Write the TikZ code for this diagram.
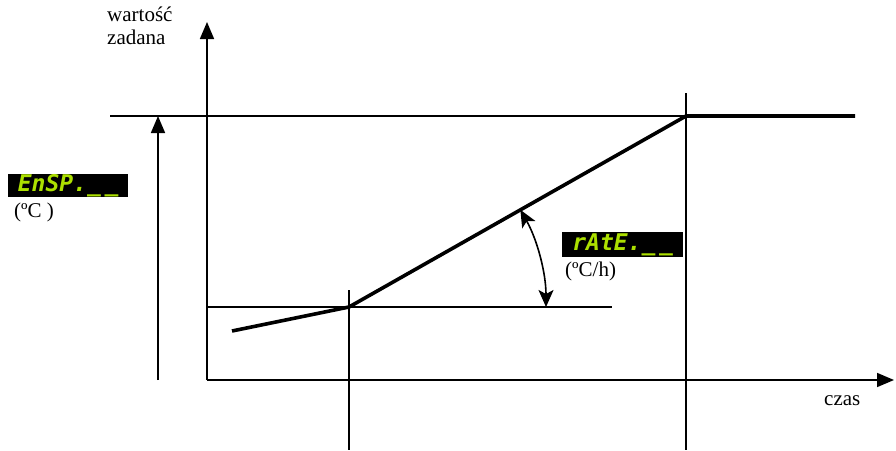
\documentclass[tikz,border=0pt]{standalone}
\usepackage{fontspec}
\setmainfont{Liberation Serif}
\newfontfamily\segfont{DejaVu Sans Mono}
\usepackage{tikz}
\usetikzlibrary{arrows.meta,calc}
\definecolor{rpline}{RGB}{0,0,0}
\definecolor{rpseg}{RGB}{172,224,0}
\definecolor{rpback}{RGB}{0,0,0}
\tikzset{
  rpThin/.style={draw=rpline, line width=1.3pt},
  rpThick/.style={draw=rpline, line width=3.6pt, line join=miter},
  rpAxis/.style={-{Triangle[length=17pt, width=14pt]}, draw=rpline, line width=1.6pt},
  rpAngle/.style={{Stealth[length=17pt, width=15pt, inset=4pt]}-{Stealth[length=17pt, width=15pt, inset=4pt]},
                  draw=rpline, line width=1.6pt},
  rpLabel/.style={inner sep=0pt, align=left, font=\fontsize{21}{23}\selectfont},
  rpDisplay/.style={fill=rpback, text=rpseg, inner sep=0pt, anchor=north west,
                    minimum height=23pt, font=\segfont\bfseries\itshape\fontsize{23}{23}\selectfont}
}
\begin{document}
\begin{tikzpicture}[x=1pt, y=-1pt]
  \useasboundingbox (0,0) rectangle (896,450);
  % axes and reference points
  \coordinate (orig) at (207,380);
  \coordinate (ytop) at (207,22);
  \coordinate (xend) at (894,380);
  \coordinate (start) at (232,331);
  \coordinate (bend) at (349,307);
  \coordinate (reach) at (686,116);
  \coordinate (hold) at (855,116);
  \coordinate (spLeft) at (110,116);
  \coordinate (baseRight) at (612,307);
  \coordinate (baseLeft) at (207,307);
  \coordinate (bendTop) at (349,290);
  \coordinate (bendLow) at (349,450);
  \coordinate (reachTop) at (686,93);
  \coordinate (reachLow) at (686,450);
  \coordinate (spFoot) at (158,380);
  \coordinate (spHead) at (158,116);
  \coordinate (rampHit) at ($(bend)+(-29.55:197)$);
  % guide lines
  \draw[rpThin] (spLeft) -- (reach);
  \draw[rpThin] (baseLeft) -- (baseRight);
  \draw[rpThin] (bendTop) -- (bendLow);
  \draw[rpThin] (reachTop) -- (reachLow);
  \draw[rpAxis] (orig) -- (ytop);
  \draw[rpAxis] (orig) -- (xend);
  \draw[rpAxis] (spFoot) -- (spHead);
  % setpoint profile
  \draw[rpThick] (start) -- (bend) -- (reach) -- (hold);
  \draw[rpAngle] (rampHit) arc[start angle=-29.55, end angle=0, radius=197];
  % texts
  \node[rpLabel, anchor=north west] (yname) at (107,7) {wartość\\zadana};
  \node[rpLabel, anchor=north west] (xname) at (824,395) {czas};
  \node[rpDisplay, minimum width=120pt] (ensp) at (8,174) {EnSP.\_\,\_};
  \node[rpLabel, anchor=north west] (enspUnit) at (14,203) {(ºC )};
  \node[rpDisplay, minimum width=121pt, minimum height=25pt] (rate) at (562,232) {rAtE.\_\,\_};
  \node[rpLabel, anchor=north west] (rateUnit) at (565,262) {(ºC/h)};
\end{tikzpicture}
\end{document}
